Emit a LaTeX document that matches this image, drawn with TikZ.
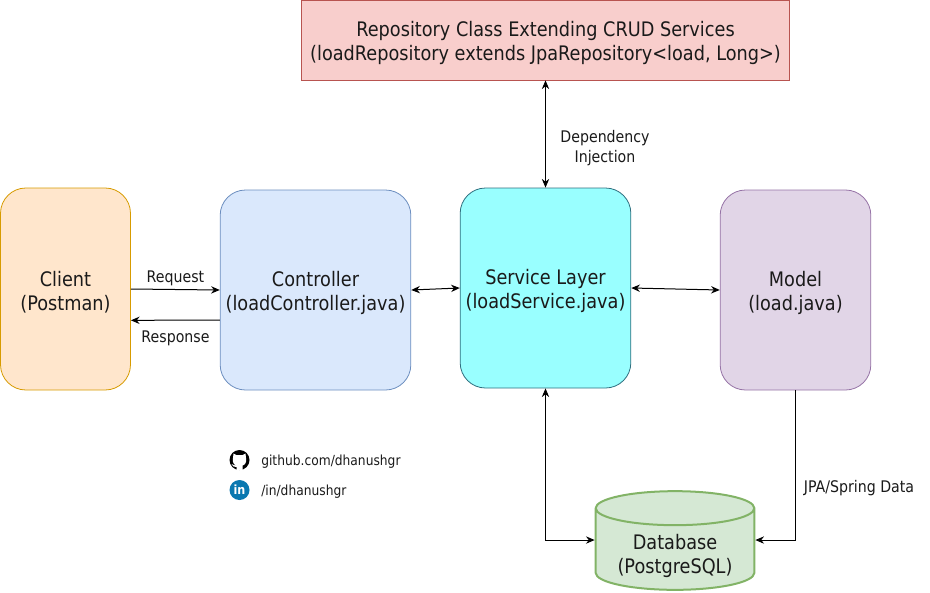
\documentclass[tikz,border=0pt]{standalone}
\usepackage{fontspec}
\setmainfont{DejaVu Sans}[FakeStretch=0.885]
\usepackage{tikz}
\usetikzlibrary{arrows.meta,shapes.geometric}

\definecolor{clientfill}{HTML}{FFE6CC}
\definecolor{clientline}{HTML}{D79B00}
\definecolor{ctrlfill}{HTML}{DAE8FC}
\definecolor{ctrlline}{HTML}{6C8EBF}
\definecolor{servfill}{HTML}{99FFFF}
\definecolor{servline}{HTML}{2F6F7F}
\definecolor{modelfill}{HTML}{E1D5E7}
\definecolor{modelline}{HTML}{9673A6}
\definecolor{repofill}{HTML}{F8CECC}
\definecolor{repoline}{HTML}{B85450}
\definecolor{dbfill}{HTML}{D5E8D4}
\definecolor{dbline}{HTML}{82B366}
\definecolor{linkblue}{HTML}{0A78B0}
\definecolor{textgrey}{HTML}{1A1A1A}

% pushes the two lines of a box down a little
\newcommand{\boxlines}[2]{\rule{0pt}{16pt}#1\\#2}

\tikzset{
  box/.style={draw, rounded corners=19pt, align=center, inner sep=0pt, font=\fontsize{15}{18}\selectfont, text=textgrey, line width=0.6pt},
  conn/.style={line width=0.75pt, -{Stealth[length=6.5pt,width=5.5pt]}},
  biconn/.style={line width=0.75pt, {Stealth[length=6.5pt,width=5.5pt]}-{Stealth[length=6.5pt,width=5.5pt]}},
  lbl/.style={font=\fontsize{12}{15}\selectfont, text=textgrey, align=center, inner sep=0pt},
}

\begin{document}
\begin{tikzpicture}[x=0.75pt,y=-0.75pt]

\useasboundingbox (0,0) rectangle (930,592);

\node[box, fill=clientfill, draw=clientline, minimum width=97.5pt, minimum height=151.5pt] (client) at (65.5,289) {\boxlines{Client}{(Postman)}};
\node[box, fill=ctrlfill, draw=ctrlline, minimum width=143pt, minimum height=150pt] (controller) at (315.5,290) {\boxlines{Controller}{(loadController.java)}};
\node[box, fill=servfill, draw=servline, minimum width=128pt, minimum height=150pt] (service) at (545.5,288) {\boxlines{Service Layer}{(loadService.java)}};
\node[box, fill=modelfill, draw=modelline, minimum width=113pt, minimum height=150pt] (model) at (795.5,290) {\boxlines{Model}{(load.java)}};
\node[box, rounded corners=0pt, fill=repofill, draw=repoline, minimum width=366.5pt, minimum height=60pt] (repo) at (545.5,40) {\boxlines{Repository Class Extending CRUD Services}{(loadRepository extends JpaRepository<load, Long>)}};

\node[cylinder, shape border rotate=90, aspect=0.3, draw=dbline, fill=dbfill, line width=1.5pt, minimum width=119pt, minimum height=74pt, inner sep=0pt] (db) at (675,549.5) {\phantom{\rule{85pt}{29.5pt}}};
\node[align=center, inner sep=0pt, font=\fontsize{15}{18}\selectfont, text=textgrey] (dbtext) at (675,556) {Database\\(PostgreSQL)};

\coordinate (dbwest) at ([yshift=7.1pt]db.west);
\coordinate (dbeast) at ([yshift=7.1pt]db.east);
\coordinate (servbend) at (service.south |- dbwest);
\coordinate (modelbend) at (model.south |- dbeast);

\draw[conn] (client.east) -- (controller.west);
\draw[conn] ([yshift=-22.5pt]controller.west) -- ([yshift=-23.5pt]client.east);
\draw[biconn] (controller.east) -- (service.west);
\draw[biconn] (service.east) -- (model.west);
\draw[biconn] (repo.south) -- (service.north);
\draw[biconn] (service.south) -- (servbend) -- (dbwest);
\draw[conn] (model.south) -- (modelbend) -- (dbeast);

\node[lbl] (request) at (175.5,278) {Request};
\node[lbl] (response) at (175.5,338) {Response};
\node[lbl] (depinj) at (605,148) {Dependency\\Injection};
\node[lbl] (jpa) at (859,488) {JPA/Spring Data};

\node[lbl, font=\fontsize{10.4}{15}\selectfont, anchor=west] (github) at (261,462) {github.com/dhanushgr};
\node[lbl, font=\fontsize{10.4}{15}\selectfont, anchor=west] (linkedin) at (261,492) {/in/dhanushgr};

% github icon
\fill[black] (239.5,460) circle (7.5pt);
\fill[white] (233.5,453.5) -- (236.5,455) -- (242.5,455) -- (245.5,453.5) -- (246,458) .. controls (247,462) and (245,465) .. (242.5,465.5) -- (242.5,470) -- (236.5,470) -- (236.5,467) .. controls (234,467.5) and (232.5,466) .. (231.5,464) .. controls (233,464.5) and (234.5,466) .. (236.5,465.5) .. controls (234,465) and (232,462) .. (233,458) -- cycle;

% linkedin icon
\node[circle, fill=linkblue, minimum size=15pt, inner sep=0pt, text=white, font=\bfseries\fontsize{9.5}{10}\selectfont] (lnicon) at (239.5,490) {in};

\end{tikzpicture}
\end{document}
